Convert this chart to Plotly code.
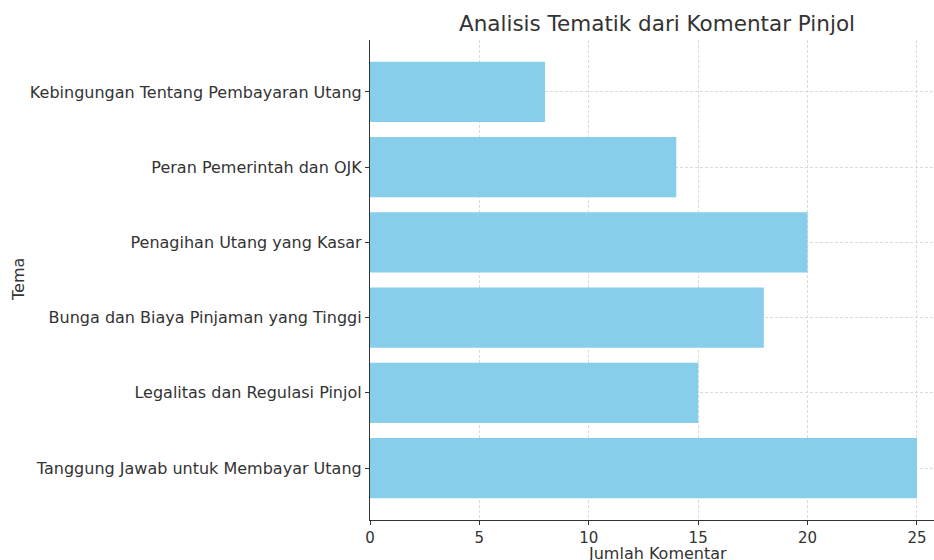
import plotly.graph_objects as go

categories = [
    "Tanggung Jawab untuk Membayar Utang",
    "Legalitas dan Regulasi Pinjol",
    "Bunga dan Biaya Pinjaman yang Tinggi",
    "Penagihan Utang yang Kasar",
    "Peran Pemerintah dan OJK",
    "Kebingungan Tentang Pembayaran Utang",
]
values = [25, 15, 18, 20, 14, 8]
x_ticks = [0, 5, 10, 15, 20, 25]

W, H = 934, 560
L, R, T, B = 370, 934, 40, 520

fig = go.Figure()
fig.add_trace(go.Bar(
    x=values, y=list(range(len(categories))), orientation="h",
    marker=dict(color="#87CEEB", line=dict(width=0)), width=0.8,
))

font = "DejaVu Sans, sans-serif"
fig.update_layout(
    width=W, height=H,
    margin=dict(l=L, r=W - R, t=T, b=H - B, pad=0),
    plot_bgcolor="white", paper_bgcolor="white",
    showlegend=False,
    font=dict(family=font, color="#333333", size=15),
    title=dict(text="Analisis Tematik dari Komentar Pinjol", x=657 / W, xanchor="center",
               y=1 - 23 / H, yanchor="middle", font=dict(size=21.5, color="#333333")),
    xaxis=dict(
        range=[0, 25.78], tickvals=x_ticks, ticktext=[str(v) for v in x_ticks],
        showgrid=True, gridcolor="#dadada", griddash="3px,2px", gridwidth=1,
        showline=True, linecolor="#333333", linewidth=1.2,
        ticks="outside", ticklen=4, tickcolor="#333333",
        tickfont=dict(size=15), zeroline=False, automargin=False,
    ),
    yaxis=dict(
        range=[-0.69, 5.69], tickvals=list(range(len(categories))), ticktext=categories,
        showgrid=True, gridcolor="#dadada", griddash="3px,2px", gridwidth=1,
        showline=True, linecolor="#333333", linewidth=1.2,
        ticks="outside", ticklen=4, tickcolor="#333333",
        tickfont=dict(size=16), zeroline=False, automargin=False,
    ),
    annotations=[
        dict(text="Jumlah Komentar", xref="paper", yref="paper",
             x=(657 - L) / (R - L), y=-(553 - B) / (B - T),
             xanchor="center", yanchor="middle", showarrow=False,
             font=dict(size=16, color="#333333")),
        dict(text="Tema", xref="paper", yref="paper",
             x=-(L - 18) / (R - L), y=0.5, textangle=-90,
             xanchor="center", yanchor="middle", showarrow=False,
             font=dict(size=16, color="#333333")),
    ],
)
fig.write_html("out.html", config={"displayModeBar": False},
               post_script="document.body.style.margin='0';document.body.style.overflow='hidden';")
